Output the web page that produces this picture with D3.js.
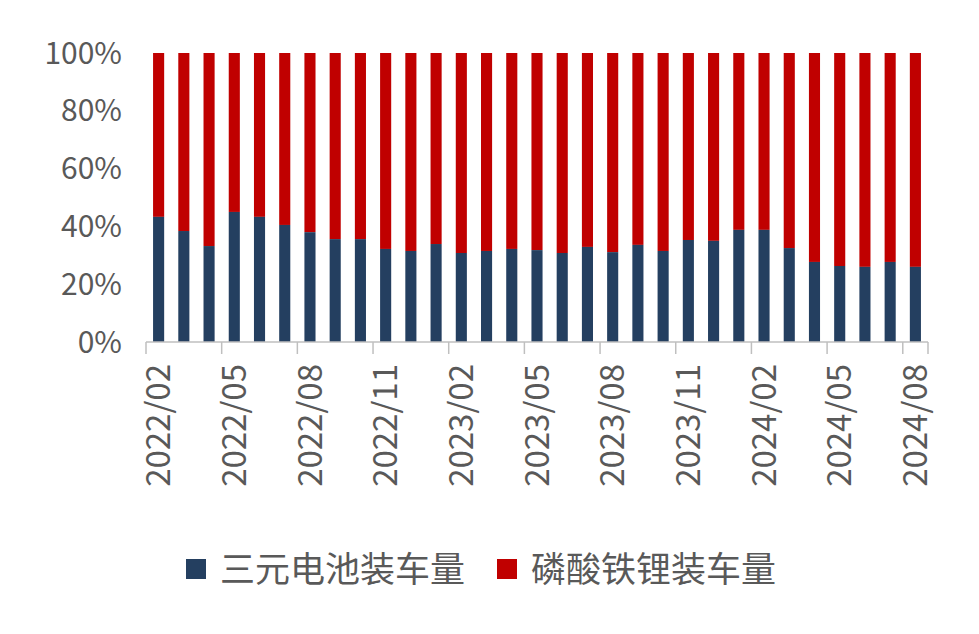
<!DOCTYPE html>
<meta charset="utf-8">
<head>
    <script src="https://cdn.jsdelivr.net/npm/d3@7"></script>
</head>
<style>
    body { margin: 0; background: #fff; }
    text { font-family: "Noto Sans CJK SC", "Open Sans", sans-serif; fill: #595959; }
</style>
<svg></svg>
<script>
    // months shown on the x axis
    var months = ["2022/02","2022/03","2022/04","2022/05","2022/06","2022/07","2022/08","2022/09","2022/10","2022/11","2022/12",
        "2023/01","2023/02","2023/03","2023/04","2023/05","2023/06","2023/07","2023/08","2023/09","2023/10","2023/11","2023/12",
        "2024/01","2024/02","2024/03","2024/04","2024/05","2024/06","2024/07","2024/08"];
    // share of ternary batteries (%), LFP is the remainder
    var ternary = [43.3,38.4,33.2,45,43.3,40.5,38,35.6,35.6,32.2,31.5,33.9,30.8,31.5,32.2,31.8,30.8,32.9,31.1,33.6,31.5,35.3,35,38.8,38.8,32.5,27.7,26.3,26,27.7,26];
    var seriesNames = ["三元电池装车量", "磷酸铁锂装车量"];
    var colors = ["#243f60", "#c00000"];
    var yTicks = [0, 20, 40, 60, 80, 100];

    var W = 979, H = 634;
    var mLeft = 146, mRight = 928, mTop = 53, mBottom = 342;

    var svg = d3.select('svg').attr('width', W).attr('height', H);

    var x = d3.scaleBand().domain(months).range([mLeft, mRight]).paddingInner(0.56).paddingOuter(0.28);
    var y = d3.scaleLinear().domain([0, 100]).range([mBottom, mTop]);

    var rows = months.map(function (m, i) { return {m: m, a: ternary[i]}; });

    svg.selectAll('rect.lfp').data(rows).enter().append('rect')
        .attr('x', function (d) { return x(d.m); })
        .attr('y', y(100))
        .attr('width', x.bandwidth())
        .attr('height', function (d) { return y(d.a) - y(100); })
        .attr('fill', colors[1]);

    svg.selectAll('rect.ter').data(rows).enter().append('rect')
        .attr('x', function (d) { return x(d.m); })
        .attr('y', function (d) { return y(d.a); })
        .attr('width', x.bandwidth())
        .attr('height', function (d) { return y(0) - y(d.a); })
        .attr('fill', colors[0]);

    // y axis labels
    svg.selectAll('text.yt').data(yTicks).enter().append('text')
        .attr('x', 122).attr('y', function (d) { return y(d); })
        .attr('dy', '0.35em').attr('text-anchor', 'end')
        .style('font-size', '30px')
        .text(function (d) { return d + '%'; });

    // x axis line and ticks every 3 months
    svg.append('line').attr('x1', mLeft).attr('x2', mRight).attr('y1', mBottom).attr('y2', mBottom)
        .attr('stroke', '#bfbfbf').attr('stroke-width', 1.5);
    var tickX = d3.range(0, months.length + 1, 3).map(function (i) { return mLeft + i * (mRight - mLeft) / months.length; });
    tickX.push(mRight);
    svg.selectAll('line.xt').data(tickX).enter().append('line')
        .attr('x1', function (d) { return d; }).attr('x2', function (d) { return d; })
        .attr('y1', mBottom).attr('y2', mBottom + 12)
        .attr('stroke', '#bfbfbf').attr('stroke-width', 1.5);

    svg.selectAll('text.xl').data(months.filter(function (m, i) { return i % 3 === 0; })).enter().append('text')
        .attr('transform', function (d) { return 'translate(' + (x(d) + x.bandwidth() / 2) + ',' + (mBottom + 22) + ') rotate(-90)'; })
        .attr('dy', '0.35em').attr('text-anchor', 'end')
        .style('font-size', '33px')
        .text(function (d) { return d; });

    // legend
    var lg = svg.append('g').attr('transform', 'translate(186,570)');
    seriesNames.forEach(function (n, i) {
        var ox = i * 311;
        lg.append('rect').attr('x', ox).attr('y', -11).attr('width', 20).attr('height', 20).attr('fill', colors[i]);
        lg.append('text').attr('x', ox + 34).attr('y', 0).attr('dy', '0.35em')
            .style('font-size', '35px').text(n);
    });
</script>
